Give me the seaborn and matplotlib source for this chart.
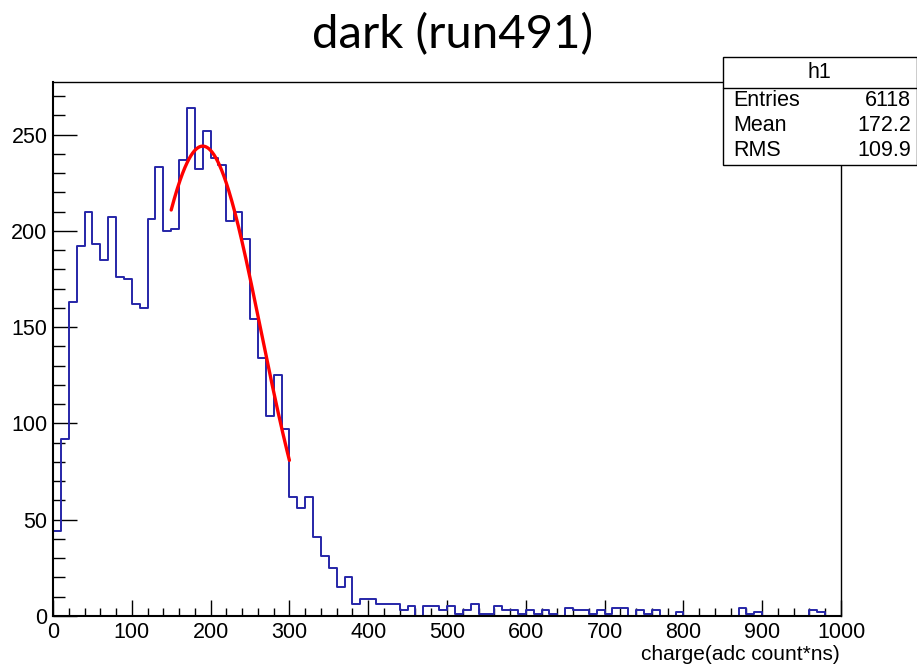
import numpy as np
import pandas as pd
import seaborn as sns
import matplotlib
matplotlib.use("Agg")
import matplotlib.pyplot as plt
from matplotlib.ticker import MultipleLocator
from matplotlib.patches import Rectangle
from matplotlib.lines import Line2D

# Histogram h1: charge spectrum, 100 bins of width 10 from 0 to 1000
bin_low = list(range(0, 1000, 10))
counts = [
    44, 92, 163, 192, 210, 193, 185, 207, 176, 175,
    162, 160, 206, 233, 200, 201, 237, 264, 232, 252,
    238, 234, 205, 210, 196, 154, 134, 104, 125, 97,
    62, 56, 62, 41, 31, 25, 15, 20, 6, 9,
    9, 6, 6, 6, 3, 5, 0, 5, 5, 3,
    5, 1, 3, 6, 1, 1, 5, 3, 3, 1,
    3, 1, 3, 1, 0, 4, 3, 3, 1, 3,
    1, 4, 4, 0, 3, 1, 3, 0, 0, 2,
    0, 0, 0, 0, 0, 0, 0, 4, 1, 2,
    0, 0, 0, 0, 0, 0, 3, 2, 0, 0,
]

# Gaussian fit over 150-300
fit_const = 244.0
fit_mean = 190.0
fit_sigma = 74.0
fit_range = (150.0, 300.0)

# Statistics box
stats_name = "h1"
stats_labels = ["Entries", "Mean", "RMS"]
stats_values = ["6118", "172.2", "109.9"]

title_text = "dark (run491)"
x_label = "charge(adc count*ns)"

W, H = 917, 664
FS = 15.5
sns.set_theme(style="white")
plt.rcParams["font.family"] = ["Liberation Sans", "DejaVu Sans"]

fig = plt.figure(figsize=(W / 100, H / 100), dpi=100)
ax = fig.add_axes([53 / W, 1 - 616 / H, (841 - 53) / W, (616 - 82) / H])

df = pd.DataFrame({"charge": [b + 5.0 for b in bin_low],
                   "n": [float(c) for c in counts]})
sns.histplot(data=df, x="charge", weights="n", binwidth=10, binrange=(0, 1000),
             element="step", fill=False, color="#2626a8", linewidth=1.4, ax=ax)

xf = np.linspace(fit_range[0], fit_range[1], 200)
yf = fit_const * np.exp(-0.5 * ((xf - fit_mean) / fit_sigma) ** 2)
sns.lineplot(x=xf, y=yf, color="#ff0000", linewidth=2.4, ax=ax, sort=False)

ax.set_xlim(0, 1000)
ax.set_ylim(0, 277.3)
ax.set_xlabel("")
ax.set_ylabel("")
ax.grid(False)

ax.xaxis.set_major_locator(MultipleLocator(100))
ax.xaxis.set_minor_locator(MultipleLocator(20))
ax.yaxis.set_major_locator(MultipleLocator(50))
ax.yaxis.set_minor_locator(MultipleLocator(10))
ax.tick_params(axis="x", which="major", direction="in", length=11.5, width=1.0,
               color="black", labelsize=FS, pad=4.5, bottom=True, top=False)
ax.tick_params(axis="x", which="minor", direction="in", length=5.8, width=1.0,
               color="black", bottom=True, top=False)
ax.tick_params(axis="y", which="major", direction="in", length=17.5, width=1.0,
               color="black", labelsize=FS, pad=4, left=True, right=False)
ax.tick_params(axis="y", which="minor", direction="in", length=8.6, width=1.0,
               color="black", left=True, right=False)
for lab in ax.get_xticklabels() + ax.get_yticklabels():
    lab.set_color("black")

for side in ["left", "bottom"]:
    ax.spines[side].set_linewidth(1.5)
    ax.spines[side].set_color("black")
for side in ["top", "right"]:
    ax.spines[side].set_linewidth(1.0)
    ax.spines[side].set_color("black")

fig.text(840 / W, 1 - 654 / H, x_label, ha="right", va="center",
         fontsize=15, color="black")

fig.text(452.5 / W, 1 - 35 / H, title_text, ha="center", va="center",
         fontsize=34, color="black", family=["Lato", "DejaVu Sans"])

# Statistics box
bx0, bx1 = 723 / W, 916.5 / W
by_top, by_bot = 1 - 57.5 / H, 1 - 165 / H
fig.patches.append(Rectangle((bx0, by_bot), bx1 - bx0, by_top - by_bot,
                             transform=fig.transFigure, facecolor="white",
                             edgecolor="black", linewidth=1.0, zorder=5))
fig.lines.append(Line2D([bx0, bx1], [1 - 87.5 / H] * 2, transform=fig.transFigure,
                        color="black", linewidth=1.0, zorder=6))
fig.text((bx0 + bx1) / 2, 1 - 72.5 / H, stats_name, ha="center", va="center",
         fontsize=FS, color="black", zorder=7)
for i, (lab, val) in enumerate(zip(stats_labels, stats_values)):
    yy = 1 - (100 + 25.5 * i) / H
    fig.text(733 / W, yy, lab, ha="left", va="center", fontsize=FS,
             color="black", zorder=7)
    fig.text(911 / W, yy, val, ha="right", va="center", fontsize=FS,
             color="black", zorder=7)

fig.savefig("out.png", dpi=100, facecolor="white")
